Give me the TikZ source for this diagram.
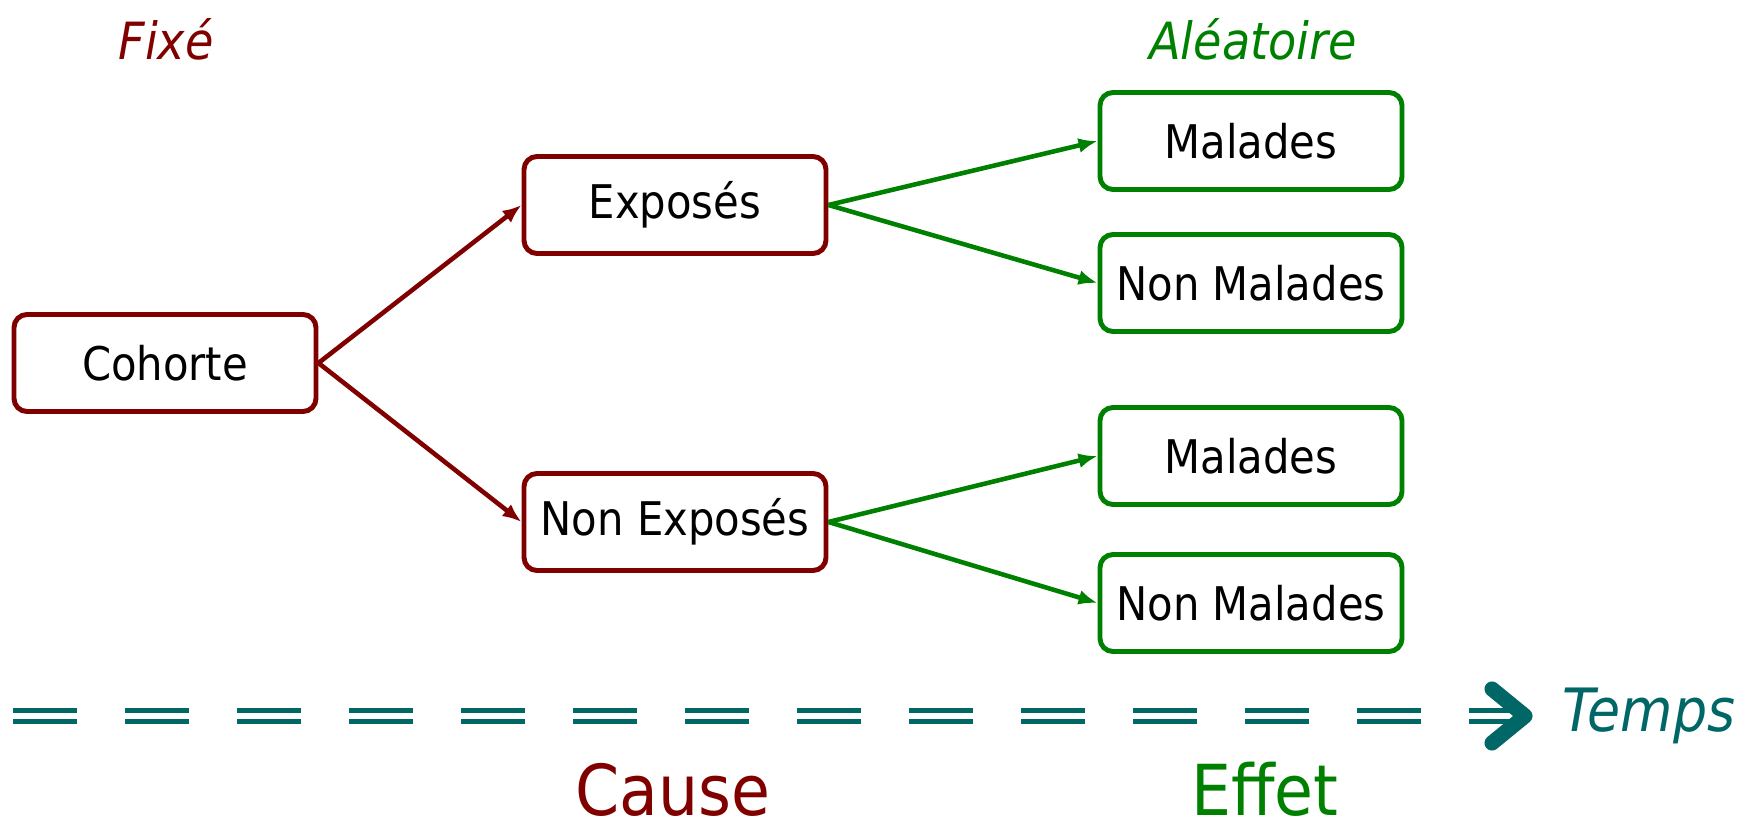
\documentclass[tikz,border=0pt]{standalone}
\usepackage{fontspec}
\setmainfont{DejaVu Sans Condensed}
\usetikzlibrary{arrows.meta}
\definecolor{cause}{RGB}{128,0,0}
\definecolor{effet}{RGB}{0,128,0}
\definecolor{temps}{RGB}{0,102,102}
\begin{document}
\begin{tikzpicture}[
  boite/.style={draw,rounded corners=0.13cm,line width=1.4pt,minimum width=3.02cm,
    minimum height=0.97cm,inner sep=0pt,font=\fontsize{13.2}{15}\selectfont},
  fleche/.style={line width=1.3pt,-{Latex[length=0.19cm,width=0.15cm]}},
  titre/.style={font=\fontsize{14.6}{17}\selectfont\itshape}]
\useasboundingbox(0,0)rectangle(17.58,8.25);
\node[titre,text=cause](fixe)at(1.66,7.86){Fixé};
\node[titre,text=effet](alea)at(12.53,7.86){Aléatoire};
%
\node[boite,draw=cause](cohorte)at(1.65,4.62){Cohorte};
\node[boite,draw=cause](expo)at(6.75,6.20){Exposés};
\node[boite,draw=cause](nonexpo)at(6.75,3.03){Non Exposés};
\node[boite,draw=effet](mal1)at(12.51,6.84){Malades};
\node[boite,draw=effet](nonmal1)at(12.51,5.42){Non Malades};
\node[boite,draw=effet](mal2)at(12.51,3.69){Malades};
\node[boite,draw=effet](nonmal2)at(12.51,2.22){Non Malades};
%
\draw[fleche,cause](cohorte.east)--(expo.west);
\draw[fleche,cause](cohorte.east)--(nonexpo.west);
\draw[fleche,effet](expo.east)--(mal1.west);
\draw[fleche,effet](expo.east)--(nonmal1.west);
\draw[fleche,effet](nonexpo.east)--(mal2.west);
\draw[fleche,effet](nonexpo.east)--(nonmal2.west);
%
\coordinate(t0)at(0.13,1.09);
\coordinate(t1)at(15.25,1.09);
\draw[temps,line width=1.6pt,double=white,double distance=1.5pt,
  dash pattern=on 0.64cm off 0.48cm](t0)--(t1);
\draw[temps,line width=4.3pt,line cap=round,line join=round]
  ([shift={(-0.33,0.27)}]t1)--(t1)--([shift={(-0.33,-0.27)}]t1);
\node[anchor=west,text=temps,font=\fontsize{17}{20}\selectfont\itshape](tps)at(15.5,1.09){Temps};
%
\node[anchor=base,inner sep=0pt,text=cause,font=\fontsize{20}{24}\selectfont](cause)at(6.73,0.1){Cause};
\node[anchor=base,inner sep=0pt,text=effet,font=\fontsize{20}{24}\selectfont](effet)at(12.65,0.1){Effet};
\end{tikzpicture}
\end{document}
